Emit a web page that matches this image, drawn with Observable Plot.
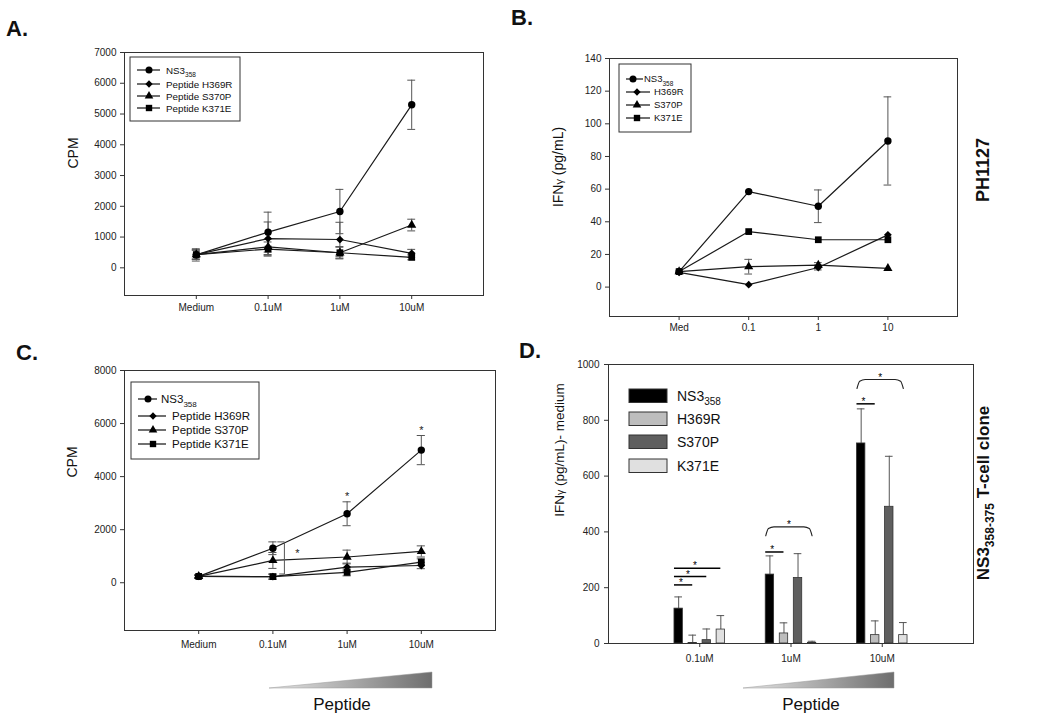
<!DOCTYPE html>
<html><head><meta charset="utf-8">
<script src="https://cdn.jsdelivr.net/npm/d3@7"></script>
<script src="https://cdn.jsdelivr.net/npm/@observablehq/plot@0.6"></script>
<style>
html,body{margin:0;padding:0;background:#fff;}
#wrap{position:relative;width:1050px;height:720px;overflow:hidden;font-family:Arial,"Liberation Sans",sans-serif;background:#fff;}
#overlay{position:absolute;left:0;top:0;pointer-events:none;}
</style></head><body><div id="wrap"></div>
<script>
// ---------------- DATA ----------------
const dosesA = ["Medium", "0.1uM", "1uM", "10uM"];
const aNS3 = [420, 1160, 1830, 5300],  aNS3Err = [200, 650, 720, 800];
const aH369R = [430, 950, 920, 470],  aH369RErr = [150, 540, 560, 130];
const aS370P = [430, 680, 490, 1390], aS370PErr = [150, 250, 200, 190];
const aK371E = [430, 610, 490, 340],  aK371EErr = [150, 230, 180, 80];
const yTicksA = [0, 1000, 2000, 3000, 4000, 5000, 6000, 7000];

const dosesB = ["Med", "0.1", "1", "10"];
const bNS3 = [9.5, 58.5, 49.5, 89.5],  bNS3Err = [0, 0, 10, 27];
const bH369R = [9, 1.5, 12, 32],      bH369RErr = [0, 0, 1.5, 0];
const bS370P = [9.5, 12.5, 13.5, 11.5], bS370PErr = [0, 4.5, 1.5, 0];
const bK371E = [9.5, 34, 29, 29],     bK371EErr = [0, 0, 0, 0];
const yTicksB = [0, 20, 40, 60, 80, 100, 120, 140];

const dosesC = ["Medium", "0.1uM", "1uM", "10uM"];
const cNS3 = [240, 1300, 2600, 5000], cNS3Err = [60, 240, 450, 550];
const cH369R = [240, 230, 590, 650], cH369RErr = [40, 100, 150, 120];
const cS370P = [240, 840, 970, 1180], cS370PErr = [40, 300, 260, 210];
const cK371E = [240, 230, 390, 780], cK371EErr = [40, 90, 130, 120];
const yTicksC = [0, 2000, 4000, 6000, 8000];

const groupsD = ["0.1uM", "1uM", "10uM"];
const dNS3 = [125, 247, 717],  dNS3Err = [42, 67, 124];
const dH369R = [2, 36, 30],    dH369RErr = [28, 38, 51];
const dS370P = [12, 235, 490], dS370PErr = [40, 87, 181];
const dK371E = [50, 2, 30],    dK371EErr = [50, 6, 45];
const yTicksD = [0, 200, 400, 600, 800, 1000];
// significance annotations in panel D (group index, compared series, level)
const sigLinesD = [
  {g: 0, to: "H369R", level: 210}, {g: 0, to: "S370P", level: 240}, {g: 0, to: "K371E", level: 270},
  {g: 1, to: "H369R", level: 328}, {g: 2, to: "H369R", level: 859}
];
const sigBracketsD = [{g: 1, to: "K371E", level: 418}, {g: 2, to: "K371E", level: 946}];

const seriesKeys = ["NS3", "H369R", "S370P", "K371E"];
const symbolsLine = ["circle", "diamond2", "triangle", "square"];
const barColors = ["#000000", "#bdbdbd", "#5f5f5f", "#e0e0e0"];

// ---------------- HELPERS ----------------
const FONT = "Arial, 'Liberation Sans', sans-serif";
const wrap = document.getElementById("wrap");

function place(frame, m, build) {
  const [x0, y0, x1, y1] = frame;
  const opts = build({
    width: x1 - x0 + m.l + m.r, height: y1 - y0 + m.t + m.b,
    marginLeft: m.l, marginRight: m.r, marginTop: m.t, marginBottom: m.b,
    style: {background: "transparent", fontFamily: FONT, fontSize: "10px", color: "#222", overflow: "visible"}
  });
  const el = Plot.plot(opts);
  el.style.position = "absolute";
  el.style.left = (x0 - m.l) + "px";
  el.style.top = (y0 - m.t) + "px";
  wrap.appendChild(el);
  return el;
}

function rowsOf(lists) {
  // lists: [[vals, errs], ...] in series order
  const out = [];
  lists.forEach(([vals, errs], si) => vals.forEach((v, i) => out.push({s: seriesKeys[si], si, i, v, e: errs[i]})));
  return out;
}

const symR = {circle: 3.7, diamond2: 3.5, triangle: 3.4, square: 3.8};

function linePanel({frame, doses, lists, yDomain, yTicks, tickPad, extra = []}) {
  const rows = rowsOf(lists);
  const eb = rows.filter(d => d.e > 0);
  const cw = 0.055;
  return place(frame, {l: 50, r: 10, t: 10, b: 30}, base => ({
    ...base,
    x: {type: "linear", domain: [-1, 4]},
    y: {type: "linear", domain: yDomain},
    marks: [
      Plot.axisY({ticks: yTicks, tickSize: 4, tickPadding: 4, tickFormat: d => String(d), label: null, stroke: "#333"}),
      Plot.axisX({ticks: [0, 1, 2, 3], tickFormat: i => doses[i], tickSize: 4, tickPadding: tickPad, label: null, stroke: "#333"}),
      Plot.ruleX(eb, {x: "i", y1: d => d.v - d.e, y2: d => d.v + d.e, stroke: "#555", strokeWidth: 1}),
      Plot.ruleY(eb, {y: d => d.v + d.e, x1: d => d.i - cw, x2: d => d.i + cw, stroke: "#555", strokeWidth: 1}),
      Plot.ruleY(eb, {y: d => d.v - d.e, x1: d => d.i - cw, x2: d => d.i + cw, stroke: "#555", strokeWidth: 1}),
      Plot.line(rows, {x: "i", y: "v", z: "s", stroke: "#1a1a1a", strokeWidth: 1.2}),
      ...symbolsLine.map((sym, si) => Plot.dot(rows.filter(d => d.si === si), {x: "i", y: "v", symbol: sym, r: symR[sym], fill: "#000", stroke: "none"})),
      ...extra.map(f => f(rows)),
      Plot.frame({stroke: "#333", strokeWidth: 1})
    ]
  }));
}

// ---------------- PANEL A ----------------
linePanel({
  frame: [124, 52, 483, 295], doses: dosesA,
  lists: [[aNS3, aNS3Err], [aH369R, aH369RErr], [aS370P, aS370PErr], [aK371E, aK371EErr]],
  yDomain: [-900, 7000], yTicks: yTicksA, tickPad: 4
});

// ---------------- PANEL B ----------------
linePanel({
  frame: [609, 58, 957, 316], doses: dosesB,
  lists: [[bNS3, bNS3Err], [bH369R, bH369RErr], [bS370P, bS370PErr], [bK371E, bK371EErr]],
  yDomain: [-18, 140], yTicks: yTicksB, tickPad: 3
});

// ---------------- PANEL C ----------------
linePanel({
  frame: [124, 370, 495, 630], doses: dosesC,
  lists: [[cNS3, cNS3Err], [cH369R, cH369RErr], [cS370P, cS370PErr], [cK371E, cK371EErr]],
  yDomain: [-1800, 8000], yTicks: yTicksC, tickPad: 6,
  extra: [
    rows => Plot.text(rows.filter(d => d.s === "NS3" && d.i >= 2), {x: "i", y: d => d.v + d.e, text: () => "*", dy: -5, fontSize: 11, fill: "#222"}),
    rows => {
      const top = cNS3[1] + cNS3Err[1], bot = cH369R[1] + cH369RErr[1];
      const pts = [{x: 1.065, y: top}, {x: 1.155, y: top}, {x: 1.155, y: bot}, {x: 1.09, y: bot}];
      return Plot.line(pts, {x: "x", y: "y", stroke: "#555", strokeWidth: 1});
    },
    rows => {
      const top = cNS3[1] + cNS3Err[1], bot = cH369R[1] + cH369RErr[1];
      return Plot.text([{x: 1.33, y: (top + bot) / 2 + 170}], {x: "x", y: "y", text: () => "*", fontSize: 11, fill: "#222"});
    }
  ]
});

// ---------------- PANEL D ----------------
(function () {
  const pitch = 0.154, bw = 0.092, cw = 0.042;
  const lists = [[dNS3, dNS3Err], [dH369R, dH369RErr], [dS370P, dS370PErr], [dK371E, dK371EErr]];
  const bars = [];
  lists.forEach(([vals, errs], si) => vals.forEach((v, g) => bars.push({g, si, v, e: errs[g], xc: g + (si - 1.5) * pitch})));
  const sx1 = d => d.g - 1.5 * pitch - bw / 2;
  const sx2 = d => d.g + (seriesKeys.indexOf(d.to) - 1.5) * pitch;
  const brPts = [];
  sigBracketsD.forEach((b, k) => {
    const a = sx1(b), z = d3.max([sx2(b), a]);
    brPts.push({k, x: a, y: b.level - 32}, {k, x: a + 0.03, y: b.level - 6}, {k, x: a + 0.09, y: b.level},
               {k, x: z - 0.09, y: b.level}, {k, x: z - 0.03, y: b.level - 6}, {k, x: z, y: b.level - 32});
  });
  place([608, 364, 973, 643], {l: 50, r: 10, t: 10, b: 30}, base => ({
    ...base,
    x: {type: "linear", domain: [-1, 3]},
    y: {type: "linear", domain: [0, 1000]},
    marks: [
      Plot.axisY({ticks: yTicksD, tickSize: 4, tickPadding: 5, tickFormat: d => String(d), label: null, stroke: "#333"}),
      Plot.axisX({ticks: [0, 1, 2], tickFormat: i => groupsD[i], tickSize: 4, tickPadding: 7, label: null, stroke: "#333"}),
      Plot.ruleX(bars, {x: "xc", y1: "v", y2: d => d.v + d.e, stroke: "#555", strokeWidth: 1}),
      Plot.ruleY(bars, {y: d => d.v + d.e, x1: d => d.xc - cw, x2: d => d.xc + cw, stroke: "#555", strokeWidth: 1}),
      ...barColors.map((c, si) => Plot.rect(bars.filter(d => d.si === si), {x1: d => d.xc - bw / 2, x2: d => d.xc + bw / 2, y1: 0, y2: "v", fill: c, stroke: "#333", strokeWidth: 0.8})),
      Plot.ruleY(sigLinesD, {y: "level", x1: sx1, x2: sx2, stroke: "#000", strokeWidth: 1.5}),
      Plot.text(sigLinesD, {x: d => (sx1(d) + sx2(d)) / 2 - 0.03, y: "level", text: () => "*", dy: -2, fontSize: 10, fill: "#000"}),
      Plot.line(brPts, {x: "x", y: "y", z: "k", curve: "monotone-x", stroke: "#222", strokeWidth: 1.1}),
      Plot.text(sigBracketsD, {x: d => (sx1(d) + sx2(d)) / 2, y: "level", text: () => "*", dy: -2, fontSize: 10, fill: "#000"}),
      Plot.frame({stroke: "#333", strokeWidth: 1})
    ]
  }));
})();

// ---------------- OVERLAY (titles, labels, legends, wedges) ----------------
const ov = d3.select(wrap).append("svg").attr("id", "overlay").attr("width", 1050).attr("height", 720)
  .style("font-family", FONT);

function txt(x, y, s, o = {}) {
  const t = ov.append("text").attr("x", x).attr("y", y).attr("font-size", o.size || 10)
    .attr("font-weight", o.weight || "normal").attr("text-anchor", o.anchor || "start").attr("fill", o.fill || "#111");
  if (o.rotate) t.attr("transform", `rotate(${o.rotate},${x},${y})`);
  if (o.parts) {
    o.parts.forEach(p => {
      const ts = t.append("tspan").text(p.t);
      if (p.size) ts.attr("font-size", p.size);
      if (p.dy) ts.attr("dy", p.dy);
    });
  } else t.text(s);
  return t;
}

// panel letters
txt(6, 36, "A.", {size: 22, weight: "bold"});
txt(511, 25, "B.", {size: 22, weight: "bold"});
txt(16, 360, "C.", {size: 22, weight: "bold"});
txt(519, 358, "D.", {size: 22, weight: "bold"});

// y axis titles
txt(78, 153, "CPM", {size: 14, anchor: "middle", rotate: -90});
txt(563, 167, "", {size: 14, anchor: "middle", rotate: -90, parts: [{t: "IFN"}, {t: "γ", size: 11}, {t: " (pg/mL)", size: 14}]});
txt(77, 462, "CPM", {size: 14, anchor: "middle", rotate: -90});
txt(564, 450, "", {size: 13.5, anchor: "middle", rotate: -90, parts: [{t: "IFN"}, {t: "γ", size: 10.5}, {t: " (pg/mL)- medium", size: 13.5}]});

// side labels
txt(989, 170, "PH1127", {size: 18, weight: "bold", anchor: "middle", rotate: -90});
txt(989, 493, "", {size: 17, weight: "bold", anchor: "middle", rotate: -90,
  parts: [{t: "NS3"}, {t: "358-375", size: 12, dy: 5}, {t: " T-cell clone", size: 17, dy: -5}]});

// line legends
const symTypes = [d3.symbolCircle, d3.symbolDiamond2, d3.symbolTriangle, d3.symbolSquare];
function lineLegend({box, ys, lineX, mx, tx, labels, size, subSize}) {
  ov.append("rect").attr("x", box[0]).attr("y", box[1]).attr("width", box[2] - box[0]).attr("height", box[3] - box[1])
    .attr("fill", "#fff").attr("stroke", "#333").attr("stroke-width", 1);
  labels.forEach((lab, k) => {
    const y = ys[k];
    ov.append("line").attr("x1", lineX[k][0]).attr("x2", lineX[k][1]).attr("y1", y).attr("y2", y).attr("stroke", "#111").attr("stroke-width", 1.2);
    const r = [3.5, 3.3, 3.2, 3.6][k];
    ov.append("path").attr("d", d3.symbol(symTypes[k], Math.PI * r * r)()).attr("transform", `translate(${mx[k]},${y})`).attr("fill", "#000");
    if (k === 0) {
      txt(tx[k], y + size * 0.36, "", {size, parts: [{t: "NS3"}, {t: "358", size: subSize, dy: size * 0.35}]});
    } else {
      txt(tx[k], y + size * 0.36, lab, {size});
    }
  });
}
lineLegend({box: [130, 57, 240, 121], ys: [70, 84, 96, 108],
  lineX: [[137, 160], [137, 160], [137, 160], [137, 160]], mx: [149, 149, 149, 149], tx: [166, 166, 166, 166],
  labels: ["NS3", "Peptide H369R", "Peptide S370P", "Peptide K371E"], size: 9.8, subSize: 6.5});
lineLegend({box: [619, 64, 691, 132], ys: [79, 92, 105, 118],
  lineX: [[626, 643], [626, 650], [626, 650], [626, 650]], mx: [633, 637, 637, 637], tx: [644, 654, 654, 654],
  labels: ["NS3", "H369R", "S370P", "K371E"], size: 9.5, subSize: 6.5});
lineLegend({box: [131, 382, 259, 459], ys: [399, 416, 430, 444],
  lineX: [[138, 157], [138, 166], [138, 166], [138, 166]], mx: [148, 153, 153, 153], tx: [161, 172, 172, 172],
  labels: ["NS3", "Peptide H369R", "Peptide S370P", "Peptide K371E"], size: 11.5, subSize: 8});

// bar legend (panel D)
const dTops = [389, 412, 435, 459];
["NS3", "H369R", "S370P", "K371E"].forEach((lab, k) => {
  ov.append("rect").attr("x", 629).attr("y", dTops[k]).attr("width", 38).attr("height", 13.5)
    .attr("fill", barColors[k]).attr("stroke", "#333").attr("stroke-width", 1);
  if (k === 0) txt(677, dTops[k] + 11.5, "", {size: 14, parts: [{t: "NS3"}, {t: "358", size: 10, dy: 4}]});
  else txt(677, dTops[k] + 11.5, lab, {size: 14});
});

// peptide wedges
const defs = ov.append("defs");
const gr = defs.append("linearGradient").attr("id", "wedgeGrad").attr("x1", "0%").attr("x2", "100%").attr("y1", "0%").attr("y2", "0%");
gr.append("stop").attr("offset", "0%").attr("stop-color", "#e6e6e6");
gr.append("stop").attr("offset", "100%").attr("stop-color", "#6e6e6e");
function wedge(x0, x1, yb, yt, cx) {
  ov.append("path").attr("d", `M${x0},${yb}L${x1},${yb}L${x1},${yt}Z`).attr("fill", "url(#wedgeGrad)").attr("stroke", "#999").attr("stroke-width", 0.5);
  txt(cx, 710, "Peptide", {size: 17, anchor: "middle", fill: "#111"});
}
wedge(269, 432, 688, 672, 342);
wedge(743, 894, 688, 672, 811);
</script>
</body></html>
